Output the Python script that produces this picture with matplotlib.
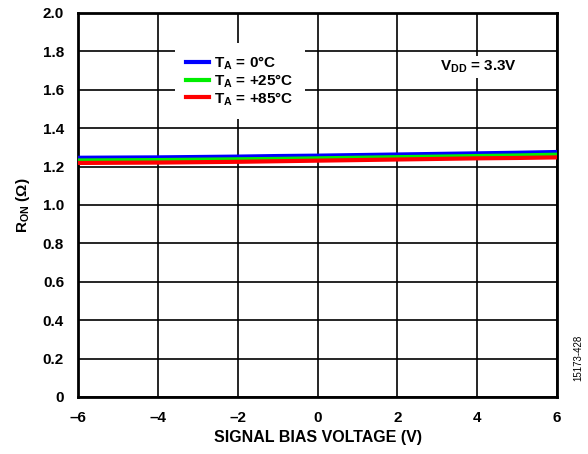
import numpy as np
import matplotlib.pyplot as plt

plt.rcParams['font.family'] = ['Liberation Sans', 'DejaVu Sans']
plt.rcParams['font.weight'] = 'bold'
plt.rcParams['axes.labelweight'] = 'bold'
plt.rcParams['mathtext.fontset'] = 'custom'
plt.rcParams['mathtext.rm'] = 'Liberation Sans:bold'
plt.rcParams['mathtext.bf'] = 'Liberation Sans:bold'

# signal bias voltage (V)
v_bias = [-6, -5, -4, -3, -2, -1, 0, 1, 2, 3, 4, 5, 6]
# on resistance (ohm) per temperature
r_0c = [1.246, 1.247, 1.248, 1.250, 1.252, 1.255, 1.257, 1.260, 1.263, 1.266, 1.269, 1.272, 1.276]
r_25c = [1.232, 1.233, 1.234, 1.236, 1.238, 1.240, 1.243, 1.246, 1.249, 1.252, 1.255, 1.258, 1.262]
r_85c = [1.219, 1.220, 1.221, 1.223, 1.225, 1.228, 1.231, 1.234, 1.237, 1.240, 1.243, 1.245, 1.248]

fig = plt.figure(figsize=(5.88, 4.54), dpi=100)
ax = fig.add_axes([78/588, 57/454, 479/588, 384/454])

ax.plot(v_bias, r_0c, color='#0000ff', lw=3, label=r'T$_\mathregular{A}$ = 0°C', zorder=3)
ax.plot(v_bias, r_25c, color='#00ee00', lw=3, label=r'T$_\mathregular{A}$ = +25°C', zorder=3)
ax.plot(v_bias, r_85c, color='#ff0000', lw=3, label=r'T$_\mathregular{A}$ = +85°C', zorder=3)

ax.set_xlim(-6, 6)
ax.set_ylim(0, 2.0)
ax.set_xticks(np.arange(-6, 7, 2))
ax.set_yticks(np.arange(0, 2.01, 0.2))
ax.set_xticklabels(['\u20136', '\u20134', '\u20132', '0', '2', '4', '6'])
ax.set_yticklabels(['0'] + ['%.1f' % v for v in np.arange(0.2, 2.01, 0.2)])
ax.tick_params(length=0, labelsize=11, pad=10)
ax.grid(True, color='black', lw=1.2)
for s in ax.spines.values():
    s.set_linewidth(2)

ax.set_xlabel('SIGNAL BIAS VOLTAGE (V)', fontsize=11.5, labelpad=4)
ax.set_ylabel(r'R$_\mathregular{ON}$ (Ω)', fontsize=11, labelpad=8)

leg = ax.legend(loc='upper left', bbox_to_anchor=(0.2025, 0.922), frameon=True, fontsize=11,
                handlelength=1.5, handletextpad=0.3, labelspacing=0.0, borderpad=0.75,
                borderaxespad=0)
leg.get_frame().set_edgecolor('none')
leg.get_frame().set_facecolor('white')
leg.get_frame().set_alpha(1)
leg.get_frame().set_boxstyle('square', pad=0)

ax.text(4.02, 1.72, r'V$_\mathregular{DD}$ = 3.3V', fontsize=11, ha='center', va='center',
        bbox=dict(facecolor='white', edgecolor='none', pad=2))

fig.text(578/588, 1 - 358/454, '15173-428', rotation=90, fontsize=7, fontweight='normal',
         ha='center', va='center')

fig.savefig('out.png', dpi=100)
